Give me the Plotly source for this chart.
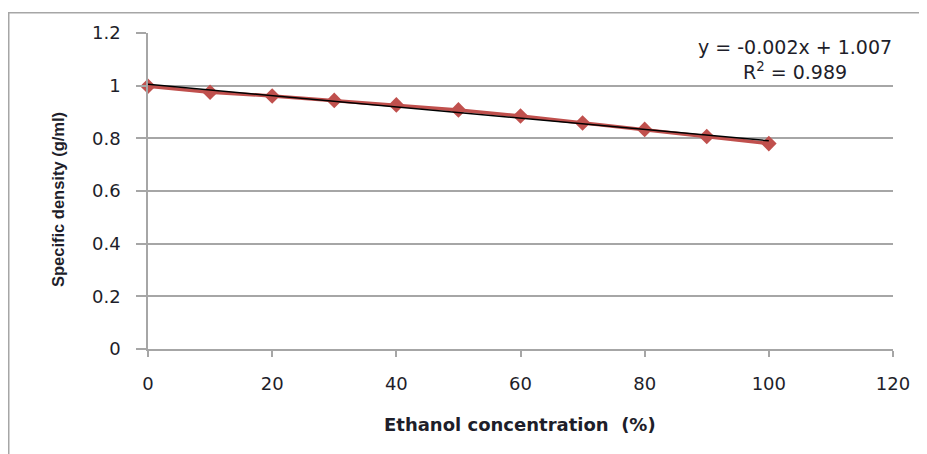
import numpy as np
import plotly.graph_objects as go

# Data
ethanol_pct = [0, 10, 20, 30, 40, 50, 60, 70, 80, 90, 100]
density = [0.998, 0.975, 0.961, 0.944, 0.927, 0.908, 0.885, 0.858, 0.834, 0.807, 0.780]
x_ticks = [0, 20, 40, 60, 80, 100, 120]
y_ticks = [0, 0.2, 0.4, 0.6, 0.8, 1.0, 1.2]
y_tick_text = ["0", "0.2", "0.4", "0.6", "0.8", "1", "1.2"]
eq_text = "y = -0.002x + 1.007<br>R<sup>2</sup> = 0.989"
x_title = "<b>Ethanol concentration&nbsp; (%)</b>"
y_title = "<b>Specific density (g/ml)</b>"

series_color = "#C0504D"
grid_color = "#A6A6A6"
text_color = "#1E1E2A"
tick_font = "DejaVu Sans, Verdana, sans-serif"
title_font = "Liberation Sans Narrow, Arial Narrow, sans-serif"

# Linear trendline from data
slope, intercept = np.polyfit(ethanol_pct, density, 1)
trend_x = [min(ethanol_pct), max(ethanol_pct)]
trend_y = [slope * v + intercept for v in trend_x]

fig = go.Figure()
fig.add_trace(go.Scatter(
    x=ethanol_pct, y=density, mode="lines+markers",
    line=dict(color=series_color, width=3.5),
    marker=dict(symbol="diamond", size=12, color=series_color),
    showlegend=False, cliponaxis=False,
))
fig.add_trace(go.Scatter(
    x=trend_x, y=trend_y, mode="lines",
    line=dict(color="#000000", width=1.5),
    showlegend=False, cliponaxis=False,
))

# page has an 8px body margin; screen coords = figure coords + 8
OFF = 8
W, H = 927 - OFF, 454 - OFF
ml, mr, mt, mb = 148 - OFF, 34, 33 - OFF, 105
pw, ph = W - ml - mr, H - mt - mb


def px(sx):
    return (sx - OFF - ml) / pw


def py(sy):
    return 1 - (sy - OFF - mt) / ph


fig.update_layout(
    width=W, height=H,
    margin=dict(l=ml, r=mr, t=mt, b=mb),
    paper_bgcolor="white", plot_bgcolor="white",
    font=dict(family=tick_font, size=18, color=text_color),
    xaxis=dict(
        range=[0, 120], tickvals=x_ticks, showgrid=False, zeroline=False,
        showline=True, linecolor=grid_color, linewidth=1.5,
        ticks="outside", ticklen=6, tickcolor=grid_color, tickwidth=1.5,
        ticklabelstandoff=12,
        fixedrange=True,
    ),
    yaxis=dict(
        range=[0, 1.2], tickvals=y_ticks, ticktext=y_tick_text,
        showgrid=True, gridcolor=grid_color, gridwidth=1.5, zeroline=False,
        showline=True, linecolor=grid_color, linewidth=1.5,
        ticks="outside", ticklen=10, tickcolor=grid_color, tickwidth=1.5,
        ticklabelstandoff=12,
        fixedrange=True,
    ),
    annotations=[
        dict(x=px(795), xref="paper", y=py(34), yref="paper",
             text=eq_text, showarrow=False, align="center",
             xanchor="center", yanchor="top", font=dict(size=19)),
        dict(x=px(520), xref="paper", y=py(424), yref="paper",
             text=x_title, showarrow=False, xanchor="center", yanchor="middle",
             font=dict(family=tick_font, size=18)),
        dict(x=px(58), xref="paper", y=py(200), yref="paper",
             text=y_title, showarrow=False, textangle=-90,
             xanchor="center", yanchor="middle",
             font=dict(family=title_font, size=16.5)),
    ],
    shapes=[dict(
        type="rect", xref="paper", yref="paper",
        x0=px(8.75), x1=px(950),
        y0=py(480), y1=py(12.75),
        line=dict(color="#A6A6A6", width=1.5), layer="below",
    )],
)

fig.write_html("out.html")
